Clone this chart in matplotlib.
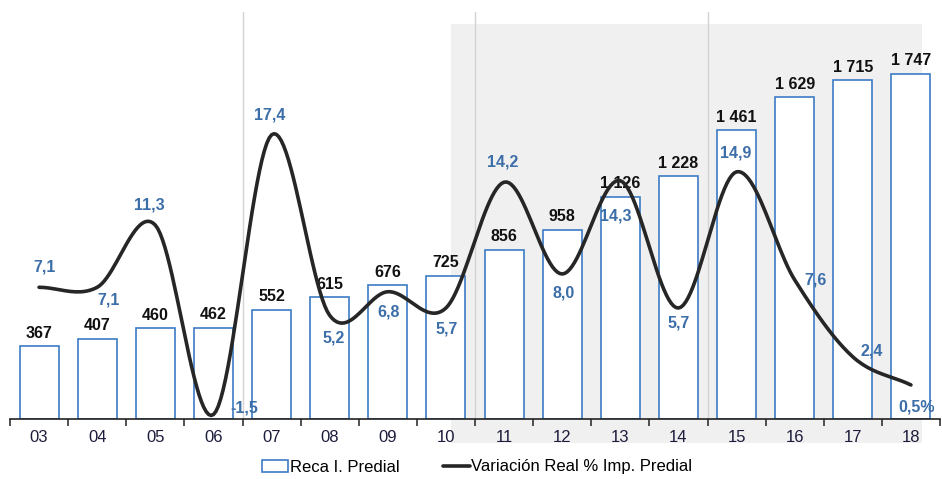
import numpy as np
import matplotlib
matplotlib.use("Agg")
import matplotlib.pyplot as plt
from matplotlib.patches import Rectangle

plt.rcParams['font.family'] = ['Liberation Sans', 'DejaVu Sans']

# ── data ──────────────────────────────────────────────────────────────────────
years = ["03", "04", "05", "06", "07", "08", "09", "10",
         "11", "12", "13", "14", "15", "16", "17", "18"]
recaudo = [367, 407, 460, 462, 552, 615, 676, 725,
           856, 958, 1126, 1228, 1461, 1629, 1715, 1747]
variacion = [7.1, 7.1, 11.3, -1.5, 17.4, 5.2, 6.8, 5.7,
             14.2, 8.0, 14.3, 5.7, 14.9, 7.6, 2.4, 0.5]
var_labels = ["7,1", "7,1", "11,3", "-1,5", "17,4", "5,2", "6,8", "5,7",
              "14,2", "8,0", "14,3", "5,7", "14,9", "7,6", "2,4", "0,5%"]

# label offsets for the line values (pixels: dx, dy upward)
var_off = [(6, 20), (11, -13), (-6, 20), (31, 7), (-2, 20), (4, -23),
           (1, -20), (1, -21), (-1, 20), (1, -19), (-5, -35), (0, -15),
           (-1, 19), (21, 0), (19, 6), (6, -22)]

BLUE = "#3d7cc4"
LBLUE = "#3c6ea8"
DARK = "#262626"


def catmull_rom(x, y, n=24):
    x = np.asarray(x, float); y = np.asarray(y, float)
    px = np.concatenate([[2 * x[0] - x[1]], x, [2 * x[-1] - x[-2]]])
    py = np.concatenate([[2 * y[0] - y[1]], y, [2 * y[-1] - y[-2]]])
    xs, ys = [], []
    t = np.linspace(0, 1, n, endpoint=False)
    for i in range(1, len(px) - 2):
        for arr, out in ((px, xs), (py, ys)):
            p0, p1, p2, p3 = arr[i - 1], arr[i], arr[i + 1], arr[i + 2]
            out.extend(0.5 * (2 * p1 + (-p0 + p2) * t
                              + (2 * p0 - 5 * p1 + 4 * p2 - p3) * t ** 2
                              + (-p0 + 3 * p1 - 3 * p2 + p3) * t ** 3))
    xs.append(x[-1]); ys.append(y[-1])
    return np.array(xs), np.array(ys)


fig = plt.figure(figsize=(9.42, 4.79), dpi=100)
W, H = 942, 479

# grey shaded zone (figure coords), behind the axes
fig.patches.append(Rectangle((451 / W, 1 - 443 / H), (922 - 451) / W, (443 - 24) / H,
                             transform=fig.transFigure, facecolor="#f0f0f0",
                             edgecolor="none", zorder=-10))

ax = fig.add_axes([10 / W, 1 - 419 / H, 930 / W, 407 / H])
ax.patch.set_alpha(0)
x = np.arange(len(years))

ax.bar(x, recaudo, width=0.67, facecolor="white", edgecolor=BLUE,
       linewidth=1.2, zorder=2, label="Reca I. Predial")
for xi, v in zip(x, recaudo):
    txt = f"{v:,}".replace(",", " ")
    ax.annotate(txt, (xi, v), xytext=(0, 13), textcoords="offset pixels",
                ha="center", va="center", fontsize=11.5, fontweight="bold",
                color="#111111", zorder=5)

for vx in (3.5, 7.5, 11.5):
    ax.axvline(vx, color="#d4d4d4", linewidth=1, zorder=1)

ax.set_xlim(-0.5, len(years) - 0.5)
ax.set_ylim(0, 2060)
ax.set_yticks([])
for s in ("top", "right", "left"):
    ax.spines[s].set_visible(False)
ax.spines["bottom"].set_color("#222222")
ax.spines["bottom"].set_linewidth(1.2)
ax.set_xticks(x)
ax.set_xticklabels(years, fontsize=12, color="#1c1c3c")
ax.tick_params(axis="x", which="major", length=0, pad=8)
ax.set_xticks(np.arange(-0.5, len(years)), minor=True)
ax.tick_params(axis="x", which="minor", length=5, width=1.1, color="#222222")

ax2 = ax.twinx()
ax2.patch.set_alpha(0)
sx, sy = catmull_rom(x, variacion)
ax2.plot(sx, sy, color=DARK, linewidth=2.6, zorder=3,
         label="Variación Real % Imp. Predial", solid_capstyle="round")
for xi, v, lab, (dx, dy) in zip(x, variacion, var_labels, var_off):
    ax2.annotate(lab, (xi, v), xytext=(dx, dy), textcoords="offset pixels",
                 ha="center", va="center", fontsize=11.5, fontweight="bold",
                 color=LBLUE, zorder=5)
ax2.set_ylim(-1.8, 25.7)
ax2.set_yticks([])
for s in ("top", "right", "left", "bottom"):
    ax2.spines[s].set_visible(False)

h1, l1 = ax.get_legend_handles_labels()
h2, l2 = ax2.get_legend_handles_labels()
fig.legend(h1 + h2, l1 + l2, loc="center", bbox_to_anchor=(477 / W, 1 - 467 / H),
           ncol=2, frameon=False, fontsize=12, handlelength=1.6,
           handletextpad=0.1, columnspacing=2.6, handleheight=0.7)

fig.savefig("out.png", dpi=100)
